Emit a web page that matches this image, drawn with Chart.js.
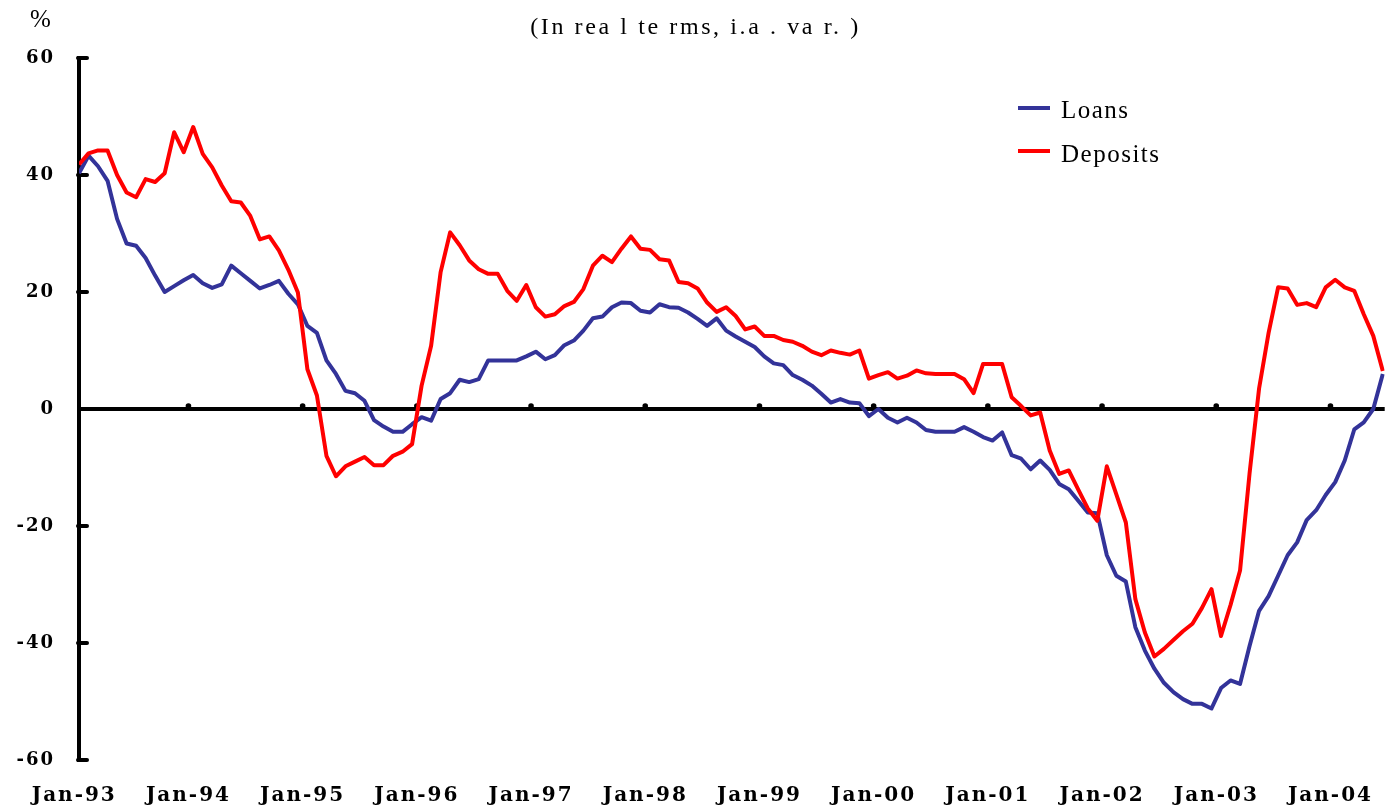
<!DOCTYPE html>
<html>
<head>
<meta charset="utf-8">
<script src="https://cdn.jsdelivr.net/npm/chart.js@4.4.1/dist/chart.umd.min.js"></script>
<style>
  html, body { margin: 0; padding: 0; background: #ffffff; }
  #wrap { position: relative; width: 1391px; height: 810px; overflow: hidden; background: #ffffff; }
  #c { position: absolute; left: 0; top: 0; }
  .txt { position: absolute; font-family: "Liberation Serif", "Times New Roman", serif; color: #000; white-space: pre; line-height: 1; }
  #pct { left: 30px; top: 6px; font-size: 25px; }
  #title { left: 0; width: 1391px; text-align: center; top: 14px; font-size: 24px; letter-spacing: 2.6px; }
  .lgline { position: absolute; width: 32px; height: 4px; }
  .lgtxt { position: absolute; font-family: "Liberation Serif", "Times New Roman", serif; font-size: 25px; line-height: 1; letter-spacing: 1.5px; white-space: pre; color: #000; }
</style>
</head>
<body>
<div id="wrap">
  <canvas id="c" width="1391" height="810"></canvas>
  <div class="txt" id="pct">%</div>
  <div class="txt" id="title">(In rea l te rms, i.a . va r. )</div>
  <div class="lgline" style="left:1018px; top:105.5px; background:#333399;"></div>
  <div class="lgtxt" style="left:1061px; top:97px;">Loans</div>
  <div class="lgline" style="left:1018px; top:148.7px; background:#ff0000;"></div>
  <div class="lgtxt" style="left:1061px; top:141px;">Deposits</div>
</div>
<script>
// Monthly data, Jan-93 .. Jun-04 (annual % change, real terms)
const tickLabels = ['Jan-93','Jan-94','Jan-95','Jan-96','Jan-97','Jan-98','Jan-99','Jan-00','Jan-01','Jan-02','Jan-03','Jan-04'];

const loans = [
  40.3, 43.3, 41.5, 39.0, 32.5, 28.3, 27.9, 25.8, 22.8, 20.0,
  21.0, 22.0, 22.9, 21.5, 20.7, 21.3, 24.5, 23.2, 21.9, 20.6,
  21.2, 21.9, 19.7, 17.9, 14.2, 13.0, 8.3, 6.0, 3.1, 2.7,
  1.4, -1.9, -3.0, -3.9, -3.9, -2.6, -1.4, -2.0, 1.7, 2.7,
  5.0, 4.6, 5.1, 8.3, 8.3, 8.3, 8.3, 9.0, 9.8, 8.5,
  9.2, 10.9, 11.7, 13.4, 15.5, 15.8, 17.4, 18.2, 18.1, 16.8,
  16.5, 17.9, 17.4, 17.3, 16.5, 15.4, 14.2, 15.5, 13.4, 12.4,
  11.5, 10.6, 9.0, 7.8, 7.5, 5.8, 5.0, 4.0, 2.6, 1.1,
  1.7, 1.1, 1.0, -1.2, 0.0, -1.5, -2.3, -1.5, -2.3, -3.6,
  -3.9, -3.9, -3.9, -3.1, -3.9, -4.8, -5.4, -4.0, -7.9, -8.5,
  -10.3, -8.8, -10.4, -12.8, -13.7, -15.7, -17.7, -17.8, -25.0, -28.5,
  -29.5, -37.3, -41.3, -44.4, -46.8, -48.4, -49.6, -50.4, -50.4, -51.2,
  -47.7, -46.4, -47.0, -40.5, -34.5, -32.0, -28.5, -25.0, -22.8, -19.0,
  -17.3, -14.7, -12.5, -8.8, -3.5, -2.3, 0.0, 6.0
];

const deposits = [
  41.8, 43.7, 44.2, 44.2, 40.0, 37.0, 36.2, 39.3, 38.8, 40.3,
  47.3, 43.9, 48.2, 43.6, 41.3, 38.2, 35.5, 35.3, 33.0, 29.0,
  29.5, 27.1, 23.8, 19.9, 6.8, 2.3, -8.0, -11.5, -9.8, -9.0,
  -8.2, -9.6, -9.6, -8.0, -7.3, -6.0, 4.0, 10.8, 23.4, 30.2,
  28.0, 25.4, 23.9, 23.1, 23.1, 20.2, 18.5, 21.2, 17.4, 15.8,
  16.2, 17.6, 18.3, 20.5, 24.5, 26.2, 25.1, 27.4, 29.5, 27.4,
  27.2, 25.6, 25.4, 21.7, 21.5, 20.6, 18.2, 16.6, 17.4, 15.9,
  13.6, 14.1, 12.5, 12.5, 11.8, 11.5, 10.8, 9.8, 9.2, 10.0,
  9.6, 9.3, 10.0, 5.2, 5.8, 6.3, 5.2, 5.7, 6.6, 6.1,
  6.0, 6.0, 6.0, 5.1, 2.7, 7.7, 7.7, 7.7, 2.0, 0.5,
  -1.1, -0.6, -7.1, -11.1, -10.5, -13.8, -17.0, -19.1, -9.8, -14.6,
  -19.4, -32.5, -38.2, -42.3, -41.0, -39.5, -38.0, -36.7, -34.0, -30.8,
  -38.8, -33.5, -27.6, -11.0, 3.5, 13.0, 20.8, 20.6, 17.8, 18.1,
  17.4, 20.8, 22.1, 20.8, 20.2, 16.2, 12.5, 6.5
];

const yTicks = [-60, -40, -20, 0, 20, 40, 60];

const toXY = arr => arr.map((v, i) => ({ x: i, y: v }));

const decor = {
  id: 'decor',
  beforeDraw(chart) {
    chart.ctx.letterSpacing = '2px';
  },
  beforeDatasetsDraw(chart) {
    const { ctx, scales } = chart;
    const xs = scales.x, ys = scales.y;
    const left = chart.chartArea.left;
    ctx.save();
    ctx.letterSpacing = '0px';
    ctx.strokeStyle = '#000';
    ctx.fillStyle = '#000';
    ctx.lineWidth = 4;
    ctx.lineCap = 'round';
    // inner y tick marks
    yTicks.forEach(v => {
      if (v === 0) return;
      const y = ys.getPixelForValue(v);
      ctx.beginPath();
      ctx.moveTo(left - 1, y);
      ctx.lineTo(left + 8, y);
      ctx.stroke();
    });
    // small tick bumps on the zero line
    const y0 = ys.getPixelForValue(0);
    tickLabels.forEach((t, k) => {
      const x = xs.getPixelForValue(12 * k - 0.5);
      if (x < left + 2) return;
      ctx.beginPath();
      ctx.arc(x, y0 - 3, 2.8, 0, Math.PI * 2);
      ctx.fill();
    });
    ctx.restore();
  }
};

new Chart(document.getElementById('c').getContext('2d'), {
  type: 'line',
  data: {
    datasets: [
      { label: 'Loans', data: toXY(loans), borderColor: '#333399', backgroundColor: '#333399',
        borderWidth: 4, pointRadius: 0, tension: 0, borderJoinStyle: 'round', order: 1 },
      { label: 'Deposits', data: toXY(deposits), borderColor: '#ff0000', backgroundColor: '#ff0000',
        borderWidth: 4, pointRadius: 0, tension: 0, borderJoinStyle: 'round', order: 0 }
    ]
  },
  options: {
    responsive: false,
    animation: false,
    devicePixelRatio: 1,
    layout: { padding: { left: 0, right: 0, top: 58, bottom: 0 } },
    plugins: { legend: { display: false }, tooltip: { enabled: false }, title: { display: false } },
    scales: {
      x: {
        type: 'linear', min: 0, max: 137.2, position: 'bottom',
        afterBuildTicks: s => { s.ticks = tickLabels.map((t, k) => ({ value: 12 * k - 0.5 })); },
        afterFit: s => { s.height = 50; },
        border: { display: false },
        grid: { display: false, drawTicks: false },
        ticks: {
          autoSkip: false, maxRotation: 0, minRotation: 0, padding: 24,
          color: '#000',
          font: { family: 'DejaVu Serif', weight: 'bold', size: 20 },
          callback: (v, i) => tickLabels[i]
        }
      },
      y: {
        min: -60, max: 60,
        afterBuildTicks: s => { s.ticks = yTicks.map(v => ({ value: v })); },
        afterFit: s => { s.width = 79; },
        border: { display: true, color: '#000', width: 4 },
        grid: {
          drawTicks: false,
          color: c => (c.tick && c.tick.value === 0) ? '#000' : 'rgba(0,0,0,0)',
          lineWidth: 4
        },
        ticks: {
          padding: 24, color: '#000',
          font: { family: 'DejaVu Serif', weight: 'bold', size: 18 },
          callback: v => String(v)
        }
      }
    }
  },
  plugins: [decor]
});
</script>
</body>
</html>
